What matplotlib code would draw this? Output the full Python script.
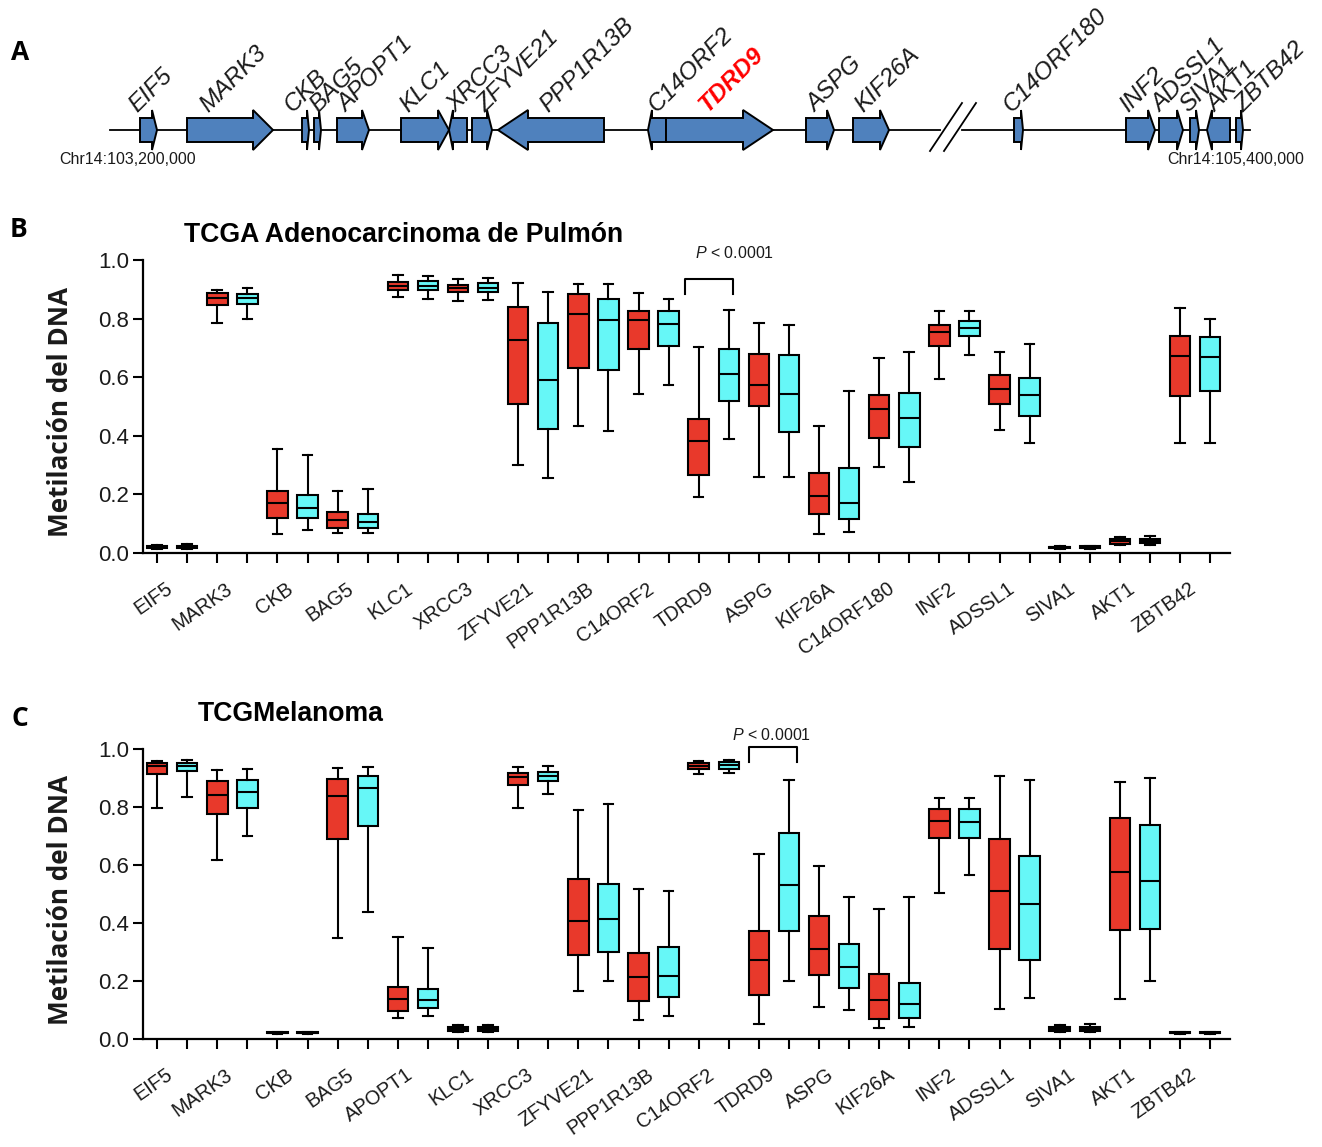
import matplotlib
matplotlib.use("Agg")
import matplotlib.pyplot as plt
from matplotlib.patches import Polygon
import matplotlib.transforms as mtransforms

plt.rcParams['font.family'] = ['Liberation Sans', 'DejaVu Sans']
plt.rcParams['mathtext.fontset'] = 'custom'
plt.rcParams['mathtext.it'] = 'Liberation Sans:italic'
plt.rcParams['mathtext.rm'] = 'Liberation Sans'

# ---------------- Panel A: gene map (diagram units) ----------------
map_genes = ["EIF5", "MARK3", "CKB", "BAG5", "APOPT1", "KLC1", "XRCC3", "ZFYVE21",
             "PPP1R13B", "C14ORF2", "TDRD9", "ASPG", "KIF26A", "C14ORF180", "INF2",
             "ADSSL1", "SIVA1", "AKT1", "ZBTB42"]
map_left = [140, 187, 302, 314, 337, 401, 449, 472, 498, 648, 666, 806, 853, 1014, 1126, 1159, 1190, 1207, 1236]
map_right = [157, 273, 309, 321, 369, 449, 467, 492, 604, 666, 773, 834, 889, 1023, 1155, 1183, 1199, 1230, 1243]
map_strand = [1, 1, 1, 1, 1, 1, -1, 1, -1, -1, 1, 1, 1, 1, 1, 1, 1, -1, 1]
map_head = [5, 20, 2, 2, 7, 11, 4, 5, 30, 4, 30, 7, 9, 2, 7, 6, 3, 5, 2]
map_label_x = [137, 208, 293, 318, 346, 408, 455, 485, 548, 657, 707, 815, 863, 1012, 1128, 1160, 1188, 1215, 1243]
backbone_segments = [(110, 940), (962, 1250)]
break_x = 953
chr_labels = ["Chr14:103,200,000", "Chr14:105,400,000"]
chr_label_x = [128, 1236]
highlight_gene = "TDRD9"

# ---------------- Panel B: TCGA lung adenocarcinoma ----------------
genes_B = ["EIF5", "MARK3", "CKB", "BAG5", "KLC1", "XRCC3", "ZFYVE21", "PPP1R13B", "C14ORF2",
           "TDRD9", "ASPG", "KIF26A", "C14ORF180", "INF2", "ADSSL1", "SIVA1", "AKT1", "ZBTB42"]
# (whisker low, q1, median, q3, whisker high)
B_red = [(0.013, 0.016, 0.019, 0.023, 0.026), (0.784, 0.846, 0.871, 0.888, 0.897),
         (0.066, 0.118, 0.169, 0.211, 0.356), (0.068, 0.084, 0.112, 0.139, 0.210),
         (0.874, 0.897, 0.911, 0.925, 0.948), (0.859, 0.890, 0.904, 0.916, 0.935),
         (0.301, 0.509, 0.727, 0.838, 0.921), (0.433, 0.630, 0.817, 0.883, 0.917),
         (0.541, 0.695, 0.794, 0.826, 0.886), (0.191, 0.265, 0.382, 0.459, 0.703),
         (0.260, 0.501, 0.572, 0.680, 0.784), (0.064, 0.134, 0.195, 0.274, 0.434),
         (0.293, 0.394, 0.490, 0.539, 0.667), (0.593, 0.707, 0.755, 0.777, 0.826),
         (0.420, 0.508, 0.559, 0.607, 0.687), (0.014, 0.016, 0.019, 0.022, 0.024),
         (0.028, 0.032, 0.040, 0.048, 0.055), (0.377, 0.536, 0.673, 0.741, 0.835)]
B_cyan = [(0.012, 0.016, 0.020, 0.024, 0.030), (0.797, 0.849, 0.869, 0.885, 0.905),
          (0.079, 0.121, 0.153, 0.197, 0.335), (0.067, 0.085, 0.105, 0.133, 0.218),
          (0.866, 0.897, 0.911, 0.928, 0.946), (0.862, 0.891, 0.905, 0.923, 0.938),
          (0.255, 0.423, 0.590, 0.785, 0.892), (0.418, 0.624, 0.794, 0.868, 0.919),
          (0.573, 0.706, 0.780, 0.826, 0.868), (0.388, 0.518, 0.612, 0.697, 0.830),
          (0.260, 0.413, 0.544, 0.675, 0.778), (0.072, 0.117, 0.171, 0.289, 0.554),
          (0.243, 0.362, 0.461, 0.546, 0.686), (0.677, 0.740, 0.769, 0.792, 0.826),
          (0.374, 0.468, 0.540, 0.598, 0.714), (0.015, 0.017, 0.020, 0.023, 0.025),
          (0.028, 0.033, 0.041, 0.048, 0.059), (0.375, 0.552, 0.670, 0.736, 0.800)]

# ---------------- Panel C: TCGA melanoma ----------------
genes_C = ["EIF5", "MARK3", "CKB", "BAG5", "APOPT1", "KLC1", "XRCC3", "ZFYVE21", "PPP1R13B",
           "C14ORF2", "TDRD9", "ASPG", "KIF26A", "INF2", "ADSSL1", "SIVA1", "AKT1", "ZBTB42"]
C_red = [(0.797, 0.915, 0.943, 0.953, 0.959), (0.617, 0.777, 0.840, 0.889, 0.927),
         (0.017, 0.019, 0.021, 0.023, 0.025), (0.349, 0.691, 0.839, 0.897, 0.933),
         (0.073, 0.096, 0.138, 0.180, 0.352), (0.024, 0.028, 0.034, 0.040, 0.047),
         (0.797, 0.877, 0.904, 0.917, 0.937), (0.165, 0.290, 0.408, 0.553, 0.791),
         (0.067, 0.131, 0.214, 0.295, 0.518), (0.914, 0.930, 0.941, 0.952, 0.960),
         (0.052, 0.153, 0.274, 0.372, 0.637), (0.109, 0.220, 0.312, 0.425, 0.595),
         (0.038, 0.070, 0.135, 0.225, 0.450), (0.502, 0.693, 0.753, 0.792, 0.830),
         (0.103, 0.310, 0.512, 0.691, 0.906), (0.023, 0.026, 0.033, 0.040, 0.049),
         (0.137, 0.377, 0.576, 0.763, 0.887), (0.017, 0.019, 0.021, 0.023, 0.025)]
C_cyan = [(0.835, 0.925, 0.940, 0.951, 0.961), (0.700, 0.798, 0.852, 0.893, 0.930),
          (0.017, 0.019, 0.021, 0.023, 0.025), (0.437, 0.735, 0.865, 0.908, 0.938),
          (0.080, 0.106, 0.134, 0.172, 0.313), (0.024, 0.027, 0.033, 0.040, 0.047),
          (0.844, 0.889, 0.908, 0.922, 0.943), (0.201, 0.299, 0.414, 0.534, 0.809),
          (0.080, 0.145, 0.217, 0.317, 0.512), (0.917, 0.932, 0.944, 0.955, 0.962),
          (0.199, 0.373, 0.532, 0.710, 0.892), (0.100, 0.175, 0.247, 0.327, 0.490),
          (0.042, 0.071, 0.122, 0.194, 0.489), (0.564, 0.692, 0.750, 0.793, 0.830),
          (0.141, 0.271, 0.464, 0.631, 0.892), (0.023, 0.027, 0.033, 0.041, 0.052),
          (0.200, 0.379, 0.545, 0.738, 0.900), (0.017, 0.019, 0.021, 0.023, 0.025)]

yticks = [0.0, 0.2, 0.4, 0.6, 0.8, 1.0]
ylabel = "Metilación del DNA"
title_B = "TCGA Adenocarcinoma de Pulmón"
title_C = "TCGMelanoma"
p_text = r"$P$ < 0.0001"

RED = "#E8392B"
CYAN = "#66F7F7"
BLUE = "#4F81BD"
TXT = "#1a1a1a"

W, H = 1322, 1147
fig = plt.figure(figsize=(W / 100, H / 100), dpi=100)


def fx(px):
    return px / W


def fy(py):
    return 1 - py / H


# ---------------- Panel A drawing ----------------
axA = fig.add_axes([0, fy(180), 1, 180 / H])
axA.set_xlim(0, W)
axA.set_ylim(180, 0)
axA.axis("off")
yc, bh, hh = 130, 12, 20
for a, b in backbone_segments:
    axA.plot([a, b], [yc, yc], color="black", lw=1.3, zorder=1)
for dx in (-10, 4):
    axA.plot([break_x + dx - 13, break_x + dx + 19], [yc + 21, yc - 27], color="black", lw=1.3)
for g, l, r, s, hd, lx in zip(map_genes, map_left, map_right, map_strand, map_head, map_label_x):
    if s > 0:
        base = r - hd
        pts = [(l, yc - bh), (base, yc - bh), (base, yc - hh), (r, yc), (base, yc + hh), (base, yc + bh), (l, yc + bh)]
    else:
        base = l + hd
        pts = [(r, yc - bh), (base, yc - bh), (base, yc - hh), (l, yc), (base, yc + hh), (base, yc + bh), (r, yc + bh)]
    axA.add_patch(Polygon(pts, closed=True, facecolor=BLUE, edgecolor="black", lw=1.4, zorder=2))
    if g == highlight_gene:
        axA.text(lx, 113, g, rotation=45, rotation_mode="anchor", ha="left", va="baseline",
                 fontsize=17.5, style="italic", weight="bold", color="red")
    else:
        axA.text(lx, 113, g, rotation=45, rotation_mode="anchor", ha="left", va="baseline",
                 fontsize=17.5, style="italic", color=TXT)
for lab, x in zip(chr_labels, chr_label_x):
    axA.text(x, 160, lab, ha="center", va="center", fontsize=11.5, color=TXT)


# ---------------- Box panels ----------------
def draw_panel(ax, genes, red, cyan, title, title_x, title_y, ylab_y):
    stats, pos, cols = [], [], []
    for i in range(len(genes)):
        for j, (arr, col) in enumerate(((red, RED), (cyan, CYAN))):
            lo, q1, med, q3, hi = arr[i]
            stats.append(dict(whislo=lo, q1=q1, med=med, q3=q3, whishi=hi, fliers=[]))
            pos.append(2 * i + j)
            cols.append(col)
    bp = ax.bxp(stats, positions=pos, widths=0.68, capwidths=0.32, patch_artist=True,
                showfliers=False, manage_ticks=False,
                boxprops=dict(edgecolor="black", linewidth=1.5),
                whiskerprops=dict(color="black", linewidth=1.5),
                capprops=dict(color="black", linewidth=1.5),
                medianprops=dict(color="black", linewidth=1.5))
    for patch, c in zip(bp["boxes"], cols):
        patch.set_facecolor(c)
    ax.set_xlim(-0.47, 35.66)
    ax.set_ylim(0, 1.0)
    for sp in ("top", "right"):
        ax.spines[sp].set_visible(False)
    for sp in ("left", "bottom"):
        ax.spines[sp].set_linewidth(1.6)
    ax.set_xticks(range(2 * len(genes)))
    ax.tick_params(axis="x", length=7, width=1.5, labelbottom=False)
    ax.set_yticks(yticks)
    ax.set_yticklabels([f"{v:.1f}" for v in yticks])
    ax.tick_params(axis="y", length=7, width=1.5, labelsize=16, labelcolor=TXT, pad=3)
    tr = mtransforms.offset_copy(ax.get_xaxis_transform(), fig=fig, x=-7, y=-26, units="dots")
    for i, g in enumerate(genes):
        ax.text(2 * i + 0.5, 0, g, transform=tr, rotation=35, rotation_mode="anchor",
                ha="right", va="top", fontsize=14.3, color=TXT)
    fig.text(fx(title_x), fy(title_y), title, ha="left", va="center", fontsize=19.2, weight="bold")
    fig.text(fx(60), fy(ylab_y), ylabel, rotation=90, ha="center", va="center",
             fontsize=18.8, weight="bold", family=["Open Sans", "DejaVu Sans"], color=TXT)


def bracket(ax, gene_idx, x_left, x_right, y_low, y_high, tx, ty):
    xl = 2 * gene_idx + x_left
    xr = 2 * gene_idx + 1 + x_right
    ax.plot([xl, xl, xr, xr], [y_low, y_high, y_high, y_low], color="black", lw=1.5, clip_on=False)
    ax.text(2 * gene_idx + tx, ty, p_text, ha="center", va="center", fontsize=11.5, color=TXT, clip_on=False)


axB = fig.add_axes([fx(143), fy(553), fx(1230) - fx(143), (553 - 260) / H])
draw_panel(axB, genes_B, B_red, B_cyan, title_B, 184, 235, 412)
bracket(axB, genes_B.index("TDRD9"), -0.47, 0.13, 0.885, 0.936, 1.19, 1.025)

axC = fig.add_axes([fx(143), fy(1039), fx(1230) - fx(143), (1039 - 749) / H])
draw_panel(axC, genes_C, C_red, C_cyan, title_C, 198, 714, 900)
bracket(axC, genes_C.index("TDRD9"), -0.33, 0.27, 0.955, 1.008, 0.41, 1.05)

for lab, x, y in (("A", 20, 52), ("B", 19, 230), ("C", 20, 718)):
    fig.text(fx(x), fy(y), lab, ha="center", va="center", fontsize=19, weight="bold",
             family=["Open Sans", "DejaVu Sans"])

fig.savefig("out.png", dpi=100)
